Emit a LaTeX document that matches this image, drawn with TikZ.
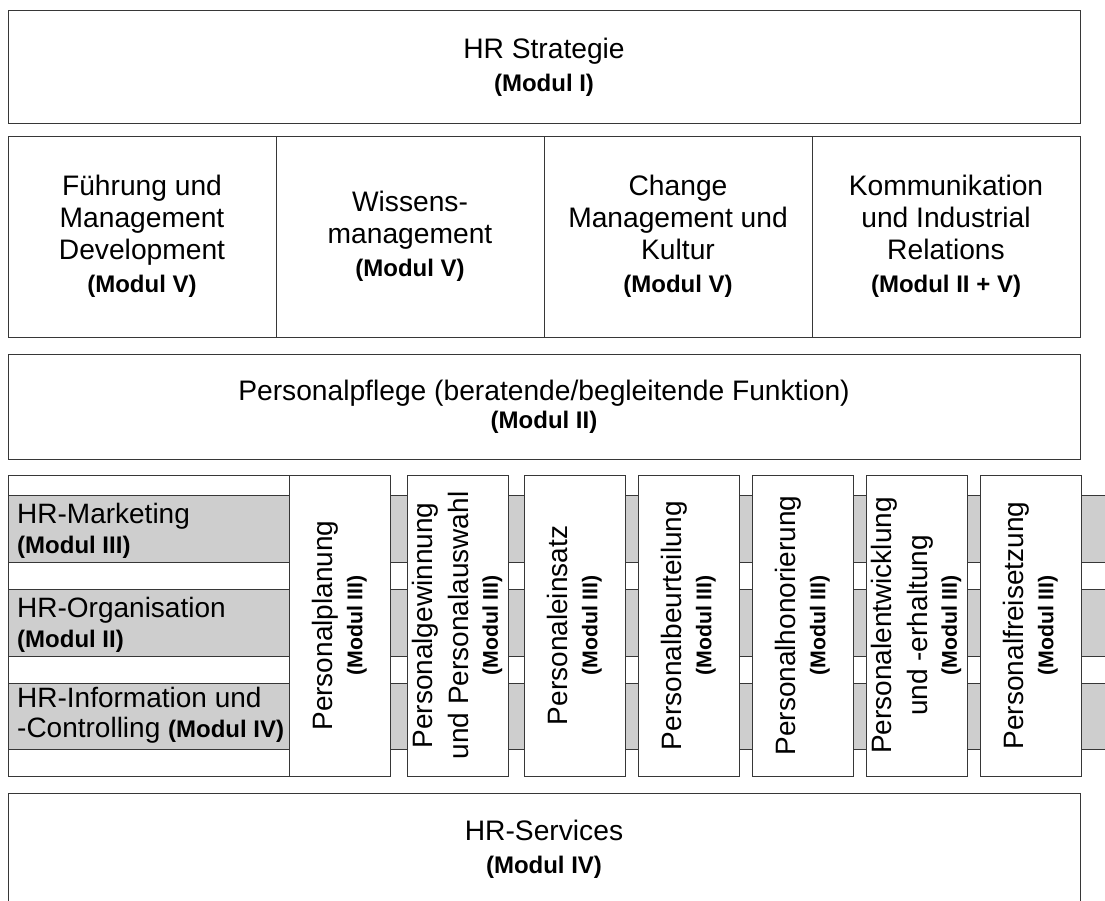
\documentclass[tikz,border=0pt]{standalone}
\usepackage{fontspec}
\setmainfont{Liberation Sans}
% text sizes: regular labels and the bold module references
\newcommand\mainsize{\fontsize{28.2}{32}\selectfont}
\newcommand\colsize{\fontsize{28}{36}\selectfont}
\newcommand\modl[1]{{\fontsize{24}{26}\selectfont\bfseries #1}}
\newcommand\vmodl[1]{{\fontsize{21.3}{24}\selectfont\bfseries #1}}
\definecolor{bandgray}{RGB}{206,206,206}
\definecolor{edge}{RGB}{55,55,55}
\begin{document}
\begin{tikzpicture}[x=1pt,y=-1pt,
  box/.style={draw=edge, line width=1pt, fill=white, rectangle,
    minimum width=#1, inner sep=2pt, align=center, font=\mainsize},
  band/.style={draw=edge, line width=1pt, fill=bandgray},
  vbox/.style={draw=edge, line width=1pt, fill=white, rectangle,
    rotate=90, minimum width=301pt, minimum height=101pt, inner sep=2pt,
    align=center, font=\colsize},
  side/.style={anchor=base west, inner sep=0pt, align=left, font=\fontsize{28}{30}\selectfont}]
\clip (0,0) rectangle (1105,900);

% top layers
\node[box=1072pt, minimum height=113pt] (strat) at (544,67)
  {HR Strategie\\[1pt]\modl{(Modul I)}};
\node[box=268pt, minimum height=201pt] (fuehr) at (142,236.5)
  {Führung und\\Management\\Development\\[1pt]\modl{(Modul V)}};
\node[box=268pt, minimum height=201pt] (wissen) at (410,236.5)
  {Wissens-\\management\\[1pt]\modl{(Modul V)}};
\node[box=268pt, minimum height=201pt] (change) at (678,236.5)
  {Change\\Management und\\Kultur\\[1pt]\modl{(Modul V)}};
\node[box=268pt, minimum height=201pt] (komm) at (946,236.5)
  {Kommunikation\\und Industrial\\Relations\\[1pt]\modl{(Modul II + V)}};
\node[box=1072pt, minimum height=105pt] (pflege) at (544,406.5)
  {Personalpflege (beratende/begleitende Funktion)\\[-4pt]\modl{(Modul II)}};

% cross-functional block: frame and the three grey bands
\node[draw=edge, line width=1pt, fill=white, rectangle, inner sep=0pt,
  minimum width=281pt, minimum height=301pt] (frame) at (148.5,625.5) {};
\path[band] (8,495) rectangle (1115,562);
\path[band] (8,589) rectangle (1115,656);
\path[band] (8,683) rectangle (1115,749);

% the base anchor of these labels sits on their last line
\node[side] (mkt) at (17,553) {HR-Marketing\\\modl{(Modul III)}};
\node[side] (org) at (17,647) {HR-Organisation\\\modl{(Modul II)}};
\node[side] (info) at (17,737) {HR-Information und\\-Controlling \modl{(Modul IV)}};

% process columns
\node[vbox] (p1) at (339.5,625.5) {Personalplanung\\[-6pt]\vmodl{(Modul III)}};
\node[vbox] (p2) at (457.5,625.5) {Personalgewinnung\\und Personalauswahl\\[-7pt]\vmodl{(Modul III)}};
\node[vbox] (p3) at (574.5,625.5) {Personaleinsatz\\[-6pt]\vmodl{(Modul III)}};
\node[vbox] (p4) at (688.5,625.5) {Personalbeurteilung\\[-6pt]\vmodl{(Modul III)}};
\node[vbox] (p5) at (802.5,625.5) {Personalhonorierung\\[-6pt]\vmodl{(Modul III)}};
\node[vbox] (p6) at (916.5,625.5) {Personalentwicklung\\und -erhaltung\\[-7pt]\vmodl{(Modul III)}};
\node[vbox] (p7) at (1030.5,625.5) {Personalfreisetzung\\[-6pt]\vmodl{(Modul III)}};

% base layer, running off the lower edge
\node[box=1072pt, minimum height=113pt] (serv) at (544,849.5)
  {HR-Services\\[1pt]\modl{(Modul IV)}};
\end{tikzpicture}
\end{document}
